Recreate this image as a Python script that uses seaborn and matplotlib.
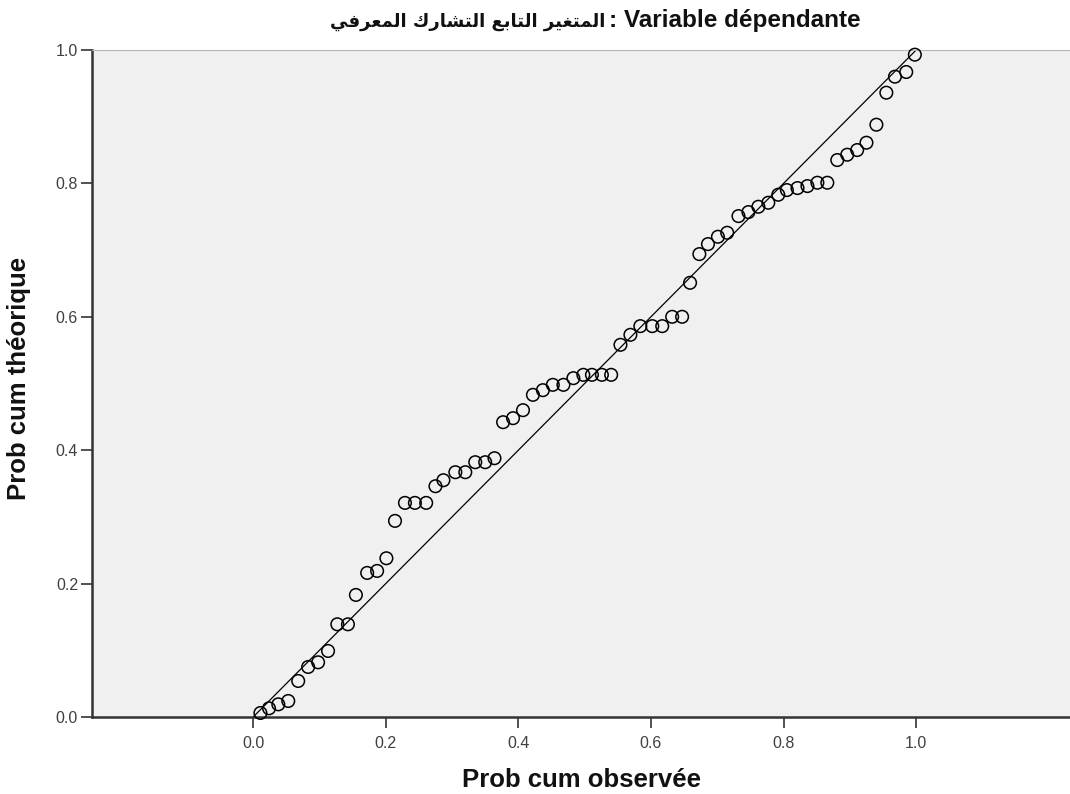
import pandas as pd
import seaborn as sns
import matplotlib
matplotlib.use('Agg')
import matplotlib.pyplot as plt

# data ---------------------------
obs_prob = [0.011, 0.024, 0.038, 0.053, 0.068, 0.083, 0.098, 0.113, 0.127, 0.143,
            0.155, 0.172, 0.187, 0.201, 0.214, 0.229, 0.244, 0.261, 0.275, 0.287,
            0.305, 0.320, 0.335, 0.350, 0.364, 0.377, 0.392, 0.407, 0.422, 0.437,
            0.452, 0.468, 0.483, 0.498, 0.511, 0.526, 0.540, 0.554, 0.569, 0.584,
            0.602, 0.617, 0.632, 0.647, 0.659, 0.673, 0.686, 0.701, 0.715, 0.732,
            0.747, 0.762, 0.777, 0.792, 0.805, 0.821, 0.836, 0.851, 0.866, 0.881,
            0.896, 0.911, 0.925, 0.940, 0.955, 0.968, 0.985, 0.998]
exp_prob = [0.006, 0.013, 0.019, 0.024, 0.054, 0.075, 0.082, 0.099, 0.139, 0.139,
            0.183, 0.216, 0.219, 0.238, 0.294, 0.321, 0.321, 0.321, 0.346, 0.355,
            0.367, 0.367, 0.382, 0.382, 0.388, 0.442, 0.448, 0.460, 0.483, 0.490,
            0.498, 0.498, 0.508, 0.513, 0.513, 0.513, 0.513, 0.558, 0.573, 0.586,
            0.586, 0.586, 0.600, 0.600, 0.651, 0.694, 0.709, 0.720, 0.726, 0.751,
            0.757, 0.765, 0.771, 0.783, 0.790, 0.793, 0.796, 0.801, 0.801, 0.835,
            0.843, 0.850, 0.861, 0.888, 0.936, 0.960, 0.967, 0.993]

ref_x = [0.0, 1.0]
ref_y = [0.0, 1.0]

tick_vals = [0.0, 0.2, 0.4, 0.6, 0.8, 1.0]
tick_labels = ['0.0', '0.2', '0.4', '0.6', '0.8', '1.0']

title_fr = 'Variable dépendante'
title_ar = 'المتغير التابع التشارك المعرفي'
x_label = 'Prob cum observée'
y_label = 'Prob cum théorique'

df = pd.DataFrame({'obs': obs_prob, 'exp': exp_prob})

# matplotlib does no arabic shaping / bidi, so do it by hand
# (isolated, final, initial, medial)
AR_FORMS = {
    'ا': ('\uFE8D', '\uFE8E', None, None),
    'ب': ('\uFE8F', '\uFE90', '\uFE91', '\uFE92'),
    'ت': ('\uFE95', '\uFE96', '\uFE97', '\uFE98'),
    'ر': ('\uFEAD', '\uFEAE', None, None),
    'ش': ('\uFEB5', '\uFEB6', '\uFEB7', '\uFEB8'),
    'ع': ('\uFEC9', '\uFECA', '\uFECB', '\uFECC'),
    'غ': ('\uFECD', '\uFECE', '\uFECF', '\uFED0'),
    'ف': ('\uFED1', '\uFED2', '\uFED3', '\uFED4'),
    'ك': ('\uFED9', '\uFEDA', '\uFEDB', '\uFEDC'),
    'ل': ('\uFEDD', '\uFEDE', '\uFEDF', '\uFEE0'),
    'م': ('\uFEE1', '\uFEE2', '\uFEE3', '\uFEE4'),
    'ي': ('\uFEF1', '\uFEF2', '\uFEF3', '\uFEF4'),
}


def shape_arabic(text):
    out = []
    for i, ch in enumerate(text):
        if ch not in AR_FORMS:
            out.append(ch)
            continue
        prev = text[i - 1] if i > 0 else ' '
        nxt = text[i + 1] if i < len(text) - 1 else ' '
        join_prev = prev in AR_FORMS and AR_FORMS[prev][2] is not None
        join_next = nxt in AR_FORMS and AR_FORMS[ch][2] is not None
        iso, fin, ini, med = AR_FORMS[ch]
        if join_prev and join_next:
            out.append(med)
        elif join_prev:
            out.append(fin)
        elif join_next:
            out.append(ini)
        else:
            out.append(iso)
    return ''.join(reversed(out))


sns.set_theme(style='white')
plt.rcParams['font.family'] = ['Liberation Sans', 'DejaVu Sans']

fig = plt.figure(figsize=(10.7, 7.94), dpi=100)
ax = fig.add_axes([92 / 1070, 77 / 794, 978 / 1070, 667 / 794])
ax.set_facecolor('#f0f0f0')

sns.lineplot(x=ref_x, y=ref_y, ax=ax, color='black', linewidth=0.9)
sns.scatterplot(data=df, x='obs', y='exp', ax=ax, s=82, marker='o',
                facecolor='none', edgecolor='black', linewidth=1.1,
                clip_on=False, zorder=3)

ax.set_xlim(-0.243, 1.232)
ax.set_ylim(0, 1)
ax.set_xticks(tick_vals)
ax.set_xticklabels(tick_labels)
ax.set_yticks(tick_vals)
ax.set_yticklabels(tick_labels)
ax.tick_params(axis='both', which='both', direction='out', length=8,
               width=1.2, color='#333333', labelsize=11.5, labelcolor='#404040')
ax.tick_params(axis='x', pad=6, bottom=True)
ax.tick_params(axis='y', pad=2, left=True)

for side in ['left', 'bottom']:
    ax.spines[side].set_color('#333333')
    ax.spines[side].set_linewidth(1.8)
ax.spines['top'].set_color('#b8b8b8')
ax.spines['top'].set_linewidth(0.8)
ax.spines['right'].set_visible(False)

ax.set_xlabel(x_label, fontsize=18.5, fontweight='bold', color='#111111')
ax.set_ylabel(y_label, fontsize=18.5, fontweight='bold', color='#111111')
ax.xaxis.set_label_coords(0.5, -0.077)
ax.yaxis.set_label_coords(-0.062, 0.508)

# title: arabic part to the left of the colon, latin part to the right
fig.text(605 / 1070, 1 - 27 / 794, shape_arabic(title_ar),
         ha='right', va='baseline', fontsize=13, fontweight='bold',
         family='DejaVu Sans', color='#111111')
fig.text(609 / 1070, 1 - 27 / 794, ': ' + title_fr,
         ha='left', va='baseline', fontsize=17.5, fontweight='bold',
         color='#111111')

plt.savefig('out.png', dpi=100)
